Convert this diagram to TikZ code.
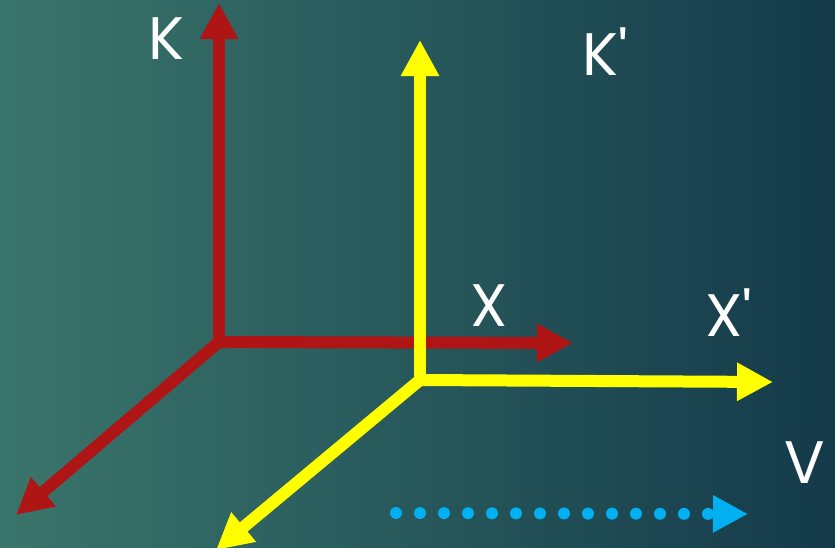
\documentclass[tikz,border=0pt]{standalone}
\usepackage{fontspec}
\setmainfont{Poppins}
\usepackage{tikz}
\usetikzlibrary{positioning,arrows.meta,calc}
\definecolor{cBgL}{HTML}{3A756B}
\definecolor{cBgR}{HTML}{143A4A}
\definecolor{cRest}{HTML}{B01515}
\definecolor{cMove}{HTML}{FFFF00}
\definecolor{cVel}{HTML}{00B0F0}
\tikzset{
  axis/.style={line width=12pt,-{Triangle[length=36pt,width=36pt]}},
  raxis/.style={axis,draw=cRest,fill=cRest},
  yaxis/.style={axis,draw=cMove,fill=cMove},
  varr/.style={line width=12pt,draw=cVel,line cap=round,dash pattern=on 0pt off 24pt,
    -{Triangle[length=35pt,width=35pt,fill=cVel]}},
  lbl/.style={text=white,inner sep=0pt,font=\fontsize{60}{60}\selectfont}}

\begin{document}
\begin{tikzpicture}[x=1pt,y=-1pt]
\useasboundingbox (0,0) rectangle (835,547);
\shade[left color=cBgL,right color=cBgR] (0,547) rectangle (835,0);
% frame K
\coordinate (ko) at (219,342);
\coordinate (kz) at (219,3);
\coordinate (kx) at (573,343);
\coordinate (ky) at (16,515);
\draw[raxis] (ko) -- (kz);
\draw[raxis] (ko) -- (kx);
\draw[raxis] (ko) -- (ky);
% frame K'
\coordinate (mo) at (420,380);
\coordinate (mz) at (420,40);
\coordinate (mx) at (773,382);
\coordinate (my) at (216,550);
\draw[yaxis] (mo) -- (mz);
\draw[yaxis] (mo) -- (mx);
\draw[yaxis] (mo) -- (my);
% velocity
\coordinate (vs) at (396,513);
\coordinate (ve) at (748,514);
\draw[varr] (vs) -- (ve);
\node[lbl] (lk) at (166,39) {K};
\node[lbl] (lkp) at (605,52) {K\textquotesingle};
\node[lbl] (lx) at (489,306) {X};
\node[lbl] (lxp) at (729,313) {X\textquotesingle};
\node[lbl] (lv) at (805,463) {V};
\end{tikzpicture}
\end{document}
